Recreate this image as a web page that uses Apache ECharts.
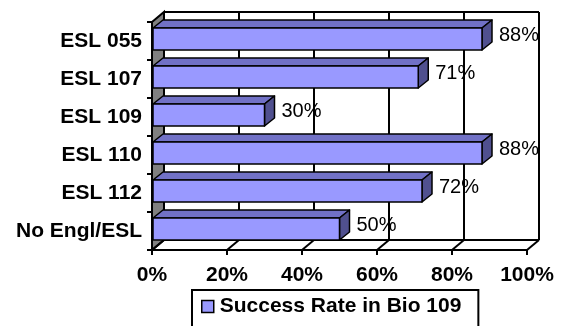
<!DOCTYPE html>
<html>
<head>
<meta charset="utf-8">
<script src="https://cdn.jsdelivr.net/npm/echarts@6/dist/echarts.min.js"></script>
<style>
  html, body { margin: 0; padding: 0; background: #fff; }
  #main { width: 564px; height: 326px; }
</style>
</head>
<body>
<div id="main"></div>
<script>
// data
const categories = ['ESL 055', 'ESL 107', 'ESL 109', 'ESL 110', 'ESL 112', 'No Engl/ESL'];
const successRate = [88, 71, 30, 88, 72, 50];
const xTicks = [0, 20, 40, 60, 80, 100];
const seriesName = 'Success Rate in Bio 109';

// 3d depth offsets (px)
const WALL_DX = 12, WALL_DY = -10;
const BAR_DX = 10, BAR_DY = -8;

const chartDom = document.getElementById('main');
const myChart = echarts.init(chartDom);

const line = (x1, y1, x2, y2) => ({
  type: 'line',
  shape: { x1: x1, y1: y1, x2: x2, y2: y2 },
  style: { stroke: '#000', lineWidth: 2 }
});

// walls and floor behind the bars
const renderFrame = (params, api) => {
  const cs = params.coordSys;
  const yT = cs.y, yB = cs.y + cs.height;
  const xL = api.coord([0, 0])[0];
  const xR = api.coord([100, 0])[0];
  const children = [];
  children.push({
    type: 'polygon',
    shape: { points: [[xL, yT], [xL + WALL_DX, yT + WALL_DY], [xL + WALL_DX, yB + WALL_DY], [xL, yB]] },
    style: { fill: '#808080', stroke: '#000', lineWidth: 2 }
  });
  children.push(line(xL + WALL_DX, yT + WALL_DY, xR + WALL_DX, yT + WALL_DY));
  children.push(line(xL + WALL_DX, yB + WALL_DY, xR + WALL_DX, yB + WALL_DY));
  xTicks.forEach((v) => {
    const x = api.coord([v, 0])[0];
    if (v > 0) children.push(line(x + WALL_DX, yT + WALL_DY, x + WALL_DX, yB + WALL_DY));
    children.push(line(x, yB, x + WALL_DX, yB + WALL_DY));
  });
  return { type: 'group', children: children };
};

// one 3d bar per category
const renderBar = (params, api) => {
  const v = api.value(0);
  const idx = api.value(1);
  const p1 = api.coord([v, idx]);
  const p0 = api.coord([0, idx]);
  const x0 = p0[0] + 1, x1 = p1[0];
  const t = p1[1] - 13, b = p1[1] + 9;
  const edge = { stroke: '#000', lineWidth: 1.5, lineJoin: 'round' };
  return {
    type: 'group',
    children: [
      {
        type: 'polygon',
        shape: { points: [[x0, t], [x1, t], [x1 + BAR_DX, t + BAR_DY], [x0 + BAR_DX, t + BAR_DY]] },
        style: Object.assign({ fill: '#7171C6' }, edge)
      },
      {
        type: 'polygon',
        shape: { points: [[x1, t], [x1 + BAR_DX, t + BAR_DY], [x1 + BAR_DX, b + BAR_DY], [x1, b]] },
        style: Object.assign({ fill: '#50508F' }, edge)
      },
      {
        type: 'rect',
        shape: { x: x0, y: t, width: x1 - x0, height: b - t },
        style: Object.assign({ fill: '#9999FF' }, edge)
      },
      {
        type: 'text',
        style: {
          x: x1 + 17, y: p1[1] - 6,
          text: v + '%',
          fill: '#000',
          font: '20px "Liberation Sans", Arial, sans-serif',
          verticalAlign: 'middle', align: 'left'
        }
      }
    ]
  };
};

const option = {
  animation: false,
  backgroundColor: '#fff',
  grid: { left: 152, right: 37, top: 22, bottom: 76, containLabel: false },
  legend: {
    data: [{ name: seriesName, icon: 'rect' }],
    left: 192, top: 290,
    padding: [6, 17, 30, 9],
    itemWidth: 12, itemHeight: 12, itemGap: 6,
    borderColor: '#000', borderWidth: 2,
    itemStyle: { color: '#9999FF', borderColor: '#000', borderWidth: 1.5 },
    textStyle: {
      fontFamily: '"Liberation Sans", Arial, sans-serif',
      fontSize: 21, fontWeight: 'bold', color: '#000', padding: [0, 0, 0, 1]
    }
  },
  xAxis: {
    type: 'value', min: 0, max: 100, interval: 20,
    axisLine: { show: true, lineStyle: { color: '#000', width: 2 } },
    axisTick: { show: true, length: 5, lineStyle: { color: '#000', width: 2 } },
    splitLine: { show: false },
    axisLabel: {
      formatter: '{value}%', margin: 15, color: '#000',
      fontFamily: '"Liberation Sans", Arial, sans-serif', fontSize: 21, fontWeight: 'bold'
    }
  },
  yAxis: {
    type: 'category', data: categories, inverse: true,
    axisLine: { show: true, lineStyle: { color: '#000', width: 2 } },
    axisTick: { show: true, length: 5, lineStyle: { color: '#000', width: 2 } },
    axisLabel: {
      margin: 10, color: '#000',
      fontFamily: '"Liberation Sans", Arial, sans-serif', fontSize: 21, fontWeight: 'bold'
    }
  },
  series: [
    {
      name: 'frame', type: 'custom', renderItem: renderFrame,
      data: [[0, 0]], silent: true, z: 1
    },
    {
      name: seriesName, type: 'custom', renderItem: renderBar,
      itemStyle: { color: '#9999FF' },
      encode: { x: 0, y: 1 },
      data: successRate.map((v, i) => [v, i]),
      z: 3
    }
  ]
};
option && myChart.setOption(option);
</script>
</body>
</html>
